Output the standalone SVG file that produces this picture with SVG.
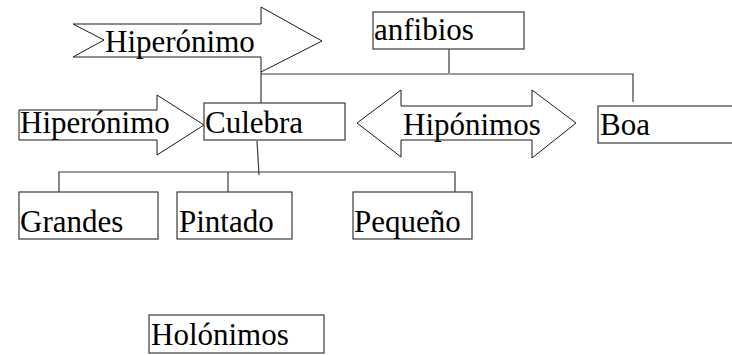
<svg xmlns="http://www.w3.org/2000/svg" width="732" height="355" viewBox="0 0 732 355">
  <style>
    .box { fill: #fff; stroke: #3a3a3a; stroke-width: 1.2; }
    .arrow { fill: #fff; stroke: #1a1a1a; stroke-width: 1; stroke-linejoin: miter; }
    .link { fill: none; stroke: #3a3a3a; stroke-width: 1.2; }
    text { font-family: 'Times New Roman', 'Liberation Serif', Times, serif; font-size: 31px; fill: #000; }
  </style>
  <rect width="732" height="355" fill="#fff"/>

  <g id="connectors">
    <polyline class="link" points="261,74 633,74 633,102"/>
    <line class="link" x1="261" y1="72" x2="261" y2="103"/>
    <line class="link" x1="449" y1="32" x2="449" y2="73"/>
    <line class="link" x1="257" y1="141" x2="259" y2="175"/>
    <polyline class="link" points="59,192 59,172 455,172 455,192"/>
    <line class="link" x1="228" y1="172" x2="228" y2="192"/>
  </g>

  <g id="arrow-hiperonimo-top">
    <polygon class="arrow" points="73,24 261,24 261,7 322,41 261,72 261,57 73,57 104,40"/>
    <text x="105" y="52">Hiperónimo</text>
  </g>

  <g id="arrow-hiperonimo-left">
    <polygon class="arrow" points="19,110 157,110 157,95 204,125 157,155 157,140 19,140"/>
    <text x="20" y="133">Hiperónimo</text>
  </g>

  <g id="arrow-hiponimos">
    <polygon class="arrow" points="357,123 401,90 401,106 532,106 532,90 576,123 532,158 532,140 401,140 401,157"/>
    <text x="403" y="135">Hipónimos</text>
  </g>

  <g id="node-anfibios">
    <rect class="box" x="373" y="12" width="151" height="37"/>
    <text x="374" y="40">anfibios</text>
  </g>

  <g id="node-culebra">
    <rect class="box" x="204" y="103" width="141" height="37"/>
    <text x="205" y="133">Culebra</text>
  </g>

  <g id="node-boa">
    <rect class="box" x="598" y="106" width="150" height="37"/>
    <text x="600" y="135">Boa</text>
  </g>

  <g id="node-grandes">
    <rect class="box" x="19" y="192" width="139" height="47"/>
    <text x="20" y="232">Grandes</text>
  </g>

  <g id="node-pintado">
    <rect class="box" x="177" y="192" width="115" height="47"/>
    <text x="179" y="232">Pintado</text>
  </g>

  <g id="node-pequeno">
    <rect class="box" x="353" y="192" width="119" height="47"/>
    <text x="354" y="232">Pequeño</text>
  </g>

  <g id="node-holonimos">
    <rect class="box" x="149" y="315" width="175" height="38"/>
    <text x="151" y="345">Holónimos</text>
  </g>
</svg>
